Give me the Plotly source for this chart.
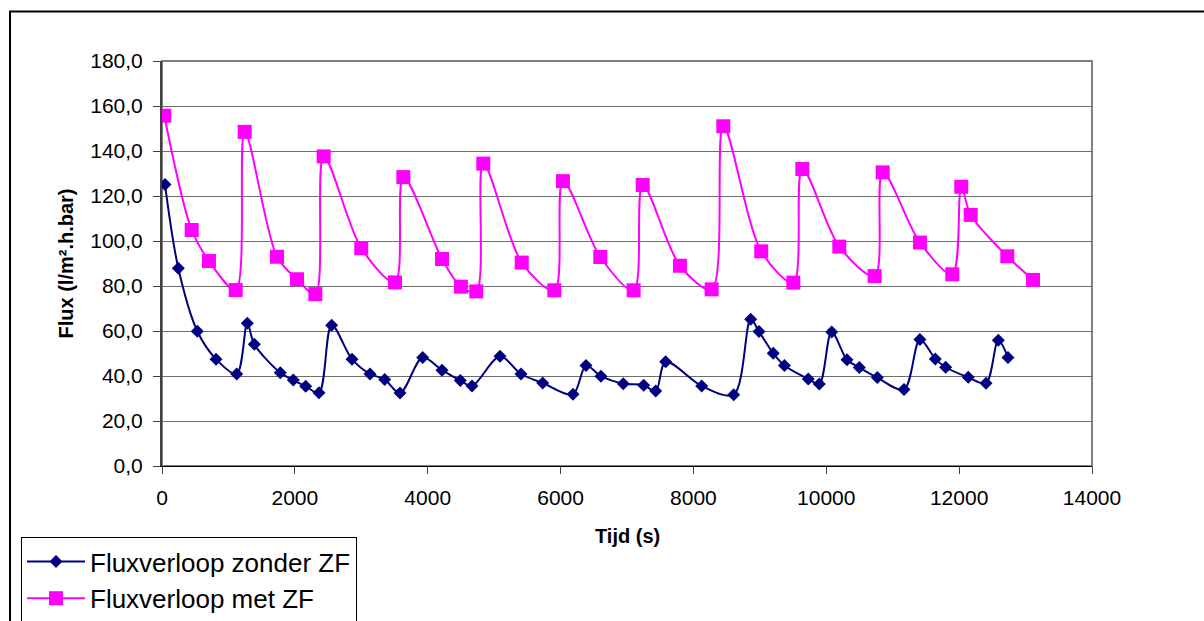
import plotly.graph_objects as go

# Flux over time, without and with ZF (zonder / met ZF)
tijd_zonder = [45, 246, 532, 813, 1124, 1284, 1390, 1781, 1977, 2163, 2363, 2554, 2860, 3131,
               3352, 3583, 3924, 4215, 4491, 4667, 5088, 5404, 5731, 6187, 6383, 6608, 6944,
               7251, 7432, 7582, 8124, 8606, 8862, 8987, 9202, 9370, 9729, 9895, 10081, 10312,
               10497, 10768, 11170, 11410, 11641, 11797, 12137, 12404, 12590, 12735]
flux_zonder = [125.1, 87.9, 59.9, 47.5, 40.9, 63.4, 54.1, 41.4, 38.2, 35.4, 32.6, 62.6, 47.5, 40.9,
               38.5, 32.4, 48.2, 42.6, 38.0, 35.6, 48.8, 40.9, 36.9, 31.9, 44.7, 39.9, 36.6,
               35.9, 33.3, 46.3, 35.6, 31.7, 65.2, 59.8, 50.1, 44.7, 38.7, 36.5, 59.6, 47.2,
               43.8, 39.3, 34.0, 56.2, 47.6, 43.9, 39.4, 36.8, 55.9, 48.2]

tijd_met = [35, 447, 707, 1109, 1245, 1731, 2032, 2308, 2434, 3000, 3507, 3633, 4215, 4500,
            4731, 4837, 5415, 5906, 6036, 6598, 7100, 7236, 7797, 8274, 8450, 9021, 9504,
            9639, 10196, 10728, 10849, 11410, 11897, 12032, 12174, 12725, 13112]
flux_met = [155.7, 104.9, 91.1, 78.2, 148.5, 93.0, 83.0, 76.4, 137.6, 96.8, 81.6, 128.4, 92.0, 79.7,
            77.6, 134.4, 90.4, 78.1, 126.6, 92.9, 78.1, 124.9, 89.0, 78.5, 151.0, 95.4, 81.5,
            132.0, 97.5, 84.4, 130.5, 99.3, 85.2, 124.1, 111.6, 93.2, 82.7]

x_titel = "Tijd (s)"
y_titel = "Flux (l/m².h.bar)"

FONT = "Liberation Sans, Arial, sans-serif"

fig = go.Figure()
fig.add_trace(go.Scatter(
    x=tijd_zonder, y=flux_zonder, name="Fluxverloop zonder ZF", legendgroup="a",
    mode="lines+markers",
    line=dict(color="#000080", width=2, shape="spline", smoothing=0.9),
    marker=dict(symbol="diamond", size=10, color="#000080"),
))
fig.add_trace(go.Scatter(
    x=tijd_met, y=flux_met, name="Fluxverloop met ZF", legendgroup="b",
    mode="lines+markers",
    line=dict(color="#FF00FF", width=2, shape="spline", smoothing=0.9),
    marker=dict(symbol="square", size=14, color="#FF00FF"),
))

# plot-area frame and outer chart border
fig.add_shape(type="rect", xref="paper", yref="paper", x0=0, y0=0, x1=1, y1=1,
              line=dict(color="#808080", width=2), layer="below")
fig.add_shape(type="rect", xref="paper", yref="paper", x0=-0.1634, y0=-0.6, x1=1.3, y1=1.1225,
              line=dict(color="black", width=2), layer="below")

# axis titles
fig.add_annotation(text=f"<b>{x_titel}</b>", xref="paper", yref="paper", x=0.5, y=-0.172,
                   xanchor="center", yanchor="middle", showarrow=False,
                   font=dict(family=FONT, size=20, color="black"))
fig.add_annotation(text=f"<b>{y_titel}</b>", xref="paper", yref="paper", x=-0.1043, y=0.5,
                   xanchor="center", yanchor="middle", showarrow=False, textangle=-90,
                   font=dict(family=FONT, size=20, color="black"))

fig.update_layout(
    width=1204, height=621,
    margin=dict(l=162, r=112, t=61, b=155, autoexpand=False),
    paper_bgcolor="white", plot_bgcolor="white",
    separators=",.",
    font=dict(family=FONT, size=20, color="black"),
    showlegend=True,
    legend=dict(
        xref="container", yref="container",
        x=21 / 1204, y=1 - 537 / 621, xanchor="left", yanchor="top",
        bgcolor="white", bordercolor="black", borderwidth=1,
        font=dict(family=FONT, size=26, color="black"),
        tracegroupgap=0, itemwidth=58,
    ),
    xaxis=dict(
        range=[0, 14000], dtick=2000, tick0=0, tickformat="d",
        showgrid=False, zeroline=False,
        showline=True, linecolor="black", linewidth=1,
        ticks="outside", ticklen=7, tickcolor="#404040",
        ticklabelstandoff=6,
        tickfont=dict(family=FONT, size=21),
    ),
    yaxis=dict(
        range=[0, 180], dtick=20, tick0=0, tickformat=".1f",
        showgrid=True, gridcolor="#6e6e6e", gridwidth=1, zeroline=False,
        showline=True, linecolor="#404040", linewidth=2,
        ticks="outside", ticklen=7, tickcolor="#404040",
        ticklabelstandoff=6,
        tickfont=dict(family=FONT, size=21),
    ),
)

fig.write_html("out.html")
